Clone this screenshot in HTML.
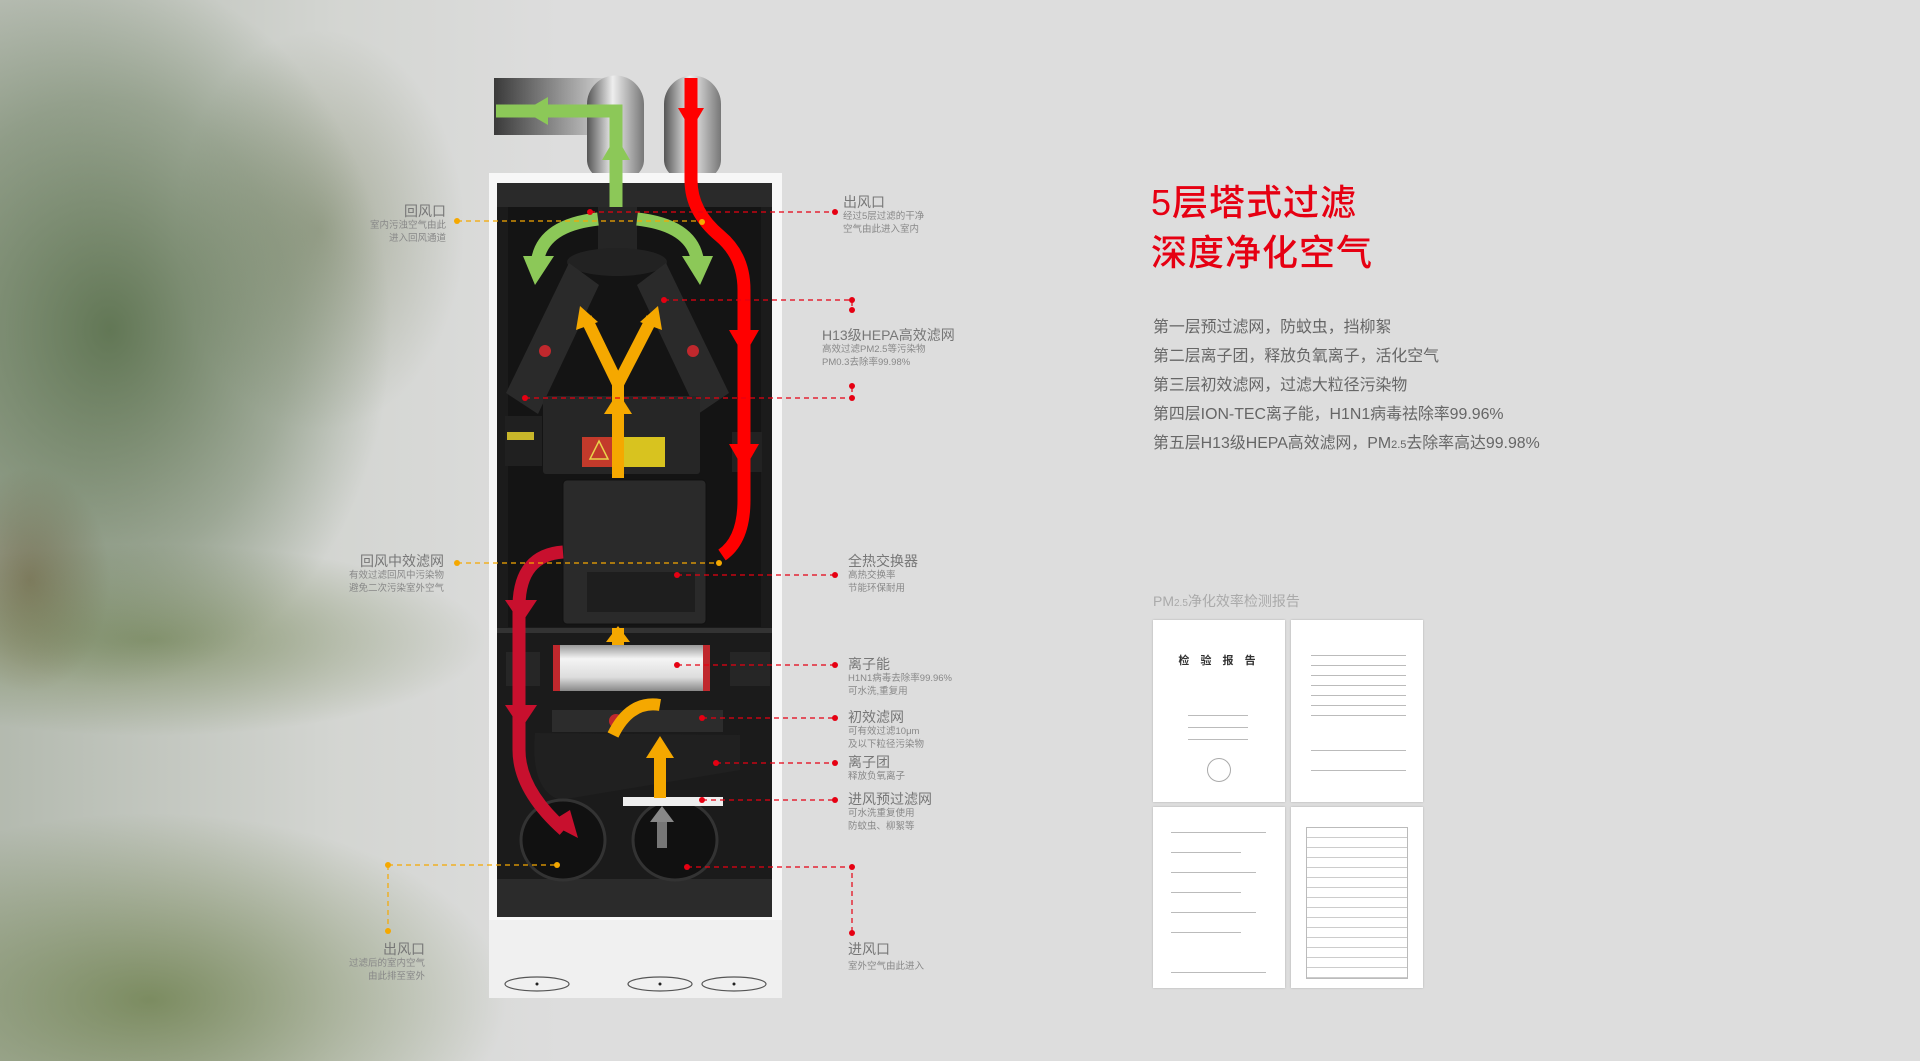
<!DOCTYPE html>
<html><head><meta charset="utf-8"><style>
*{margin:0;padding:0}
body{width:1920px;height:1061px;background:#dddddd;position:relative;overflow:hidden;font-family:"Liberation Sans","Noto Sans CJK SC",sans-serif}
.bg{position:absolute;left:0;top:0;width:560px;height:1061px;
background:
radial-gradient(ellipse 330px 420px at 110px 330px,rgba(75,100,60,.8),rgba(75,100,60,.35) 55%,rgba(75,100,60,0) 85%),
radial-gradient(ellipse 180px 250px at 320px 230px,rgba(110,120,85,.45),rgba(110,120,85,0) 80%),
radial-gradient(ellipse 420px 120px at 150px 640px,rgba(100,120,65,.6),rgba(100,120,65,0) 80%),
radial-gradient(ellipse 420px 220px at 150px 1000px,rgba(100,120,65,.75),rgba(100,120,65,0) 85%),
radial-gradient(ellipse 100px 140px at 30px 580px,rgba(120,85,55,.55),rgba(120,85,55,0) 80%),
linear-gradient(90deg,rgba(175,182,170,.9),rgba(205,208,202,.6) 60%,rgba(221,221,221,0));}
.lt{position:absolute;text-align:right;color:#777;font-size:14px;line-height:15px}
.lt small{display:block;font-size:9.5px;line-height:13px;color:#888}
.rt{position:absolute;text-align:left;color:#777;font-size:14px;line-height:15px}
.rt small{display:block;font-size:9.5px;line-height:13px;color:#888}
.title{position:absolute;left:1151px;top:178px;color:#e60012;font-size:36px;line-height:50px;font-weight:500;letter-spacing:1px}
.body{position:absolute;left:1153px;top:313px;color:#666;font-size:15.9px;line-height:29px}
.doc{position:absolute;background:#fff;box-shadow:0 0 2px rgba(0,0,0,.2)}
.doc i{position:absolute;height:1px;background:#bbb}
</style></head><body>
<div class="bg"></div>

<svg width="1920" height="1061" style="position:absolute;left:0;top:0">
<defs>
<linearGradient id="dh" x1="0" x2="1" y1="0" y2="0"><stop offset="0" stop-color="#3a3a3a"/><stop offset=".7" stop-color="#aaa"/><stop offset="1" stop-color="#ddd"/></linearGradient>
<linearGradient id="cy" x1="0" x2="1"><stop offset="0" stop-color="#555"/><stop offset=".45" stop-color="#eee"/><stop offset="1" stop-color="#777"/></linearGradient>
<linearGradient id="tube" x1="0" x2="0" y1="0" y2="1"><stop offset="0" stop-color="#999"/><stop offset=".3" stop-color="#f4f4f4"/><stop offset=".7" stop-color="#ddd"/><stop offset="1" stop-color="#888"/></linearGradient>
</defs>
<rect x="494" y="78" width="120" height="57" fill="url(#dh)"/>
<path d="M587 104 a28 28 0 0 1 57 0 V160 a28 22 0 0 1 -57 0Z" fill="url(#cy)"/>
<path d="M664 104 a28 28 0 0 1 57 0 V160 a28 22 0 0 1 -57 0Z" fill="url(#cy)"/>
<rect x="489" y="173" width="293" height="825" fill="#f7f7f7"/>
<rect x="497" y="183" width="275" height="734" fill="#1b1b1b"/>
<rect x="497" y="183" width="275" height="24" fill="#2a2a2a"/>
<rect x="508" y="207" width="253" height="420" fill="#141414"/>
<rect x="497" y="879" width="275" height="38" fill="#2b2b2b"/>
<rect x="497" y="628" width="275" height="5" fill="#333"/>
<rect x="489" y="920" width="293" height="78" fill="#f0f0f0"/>
<ellipse cx="537" cy="984" rx="32" ry="7" fill="none" stroke="#555" stroke-width="1.2"/><circle cx="537" cy="984" r="1.5" fill="#222"/>
<ellipse cx="660" cy="984" rx="32" ry="7" fill="none" stroke="#555" stroke-width="1.2"/><circle cx="660" cy="984" r="1.5" fill="#222"/>
<ellipse cx="734" cy="984" rx="32" ry="7" fill="none" stroke="#555" stroke-width="1.2"/><circle cx="734" cy="984" r="1.5" fill="#222"/>
<rect x="598" y="207" width="39" height="50" fill="#252525"/>
<ellipse cx="617" cy="262" rx="50" ry="14" fill="#222"/>
<polygon points="569,263 599,285 538,414 506,393" fill="#2a2a2a"/>
<polygon points="637,285 666,263 729,393 698,414" fill="#2a2a2a"/>
<circle cx="545" cy="351" r="6" fill="#c0282d"/><circle cx="693" cy="351" r="6" fill="#c0282d"/>
<rect x="543" y="396" width="157" height="78" rx="3" fill="#262626"/>
<rect x="582" y="437" width="83" height="30" fill="#d8c31f"/><rect x="582" y="437" width="34" height="30" fill="#c33a2b"/>
<polygon points="599,441 608,459 590,459" fill="none" stroke="#e9d24a" stroke-width="1.5"/>
<rect x="505" y="416" width="37" height="50" fill="#202020"/><rect x="507" y="432" width="27" height="8" fill="#c8b62a"/>
<rect x="732" y="432" width="30" height="40" fill="#222"/>
<rect x="563" y="480" width="143" height="144" rx="4" fill="#2a2a2a" stroke="#111"/>
<rect x="587" y="572" width="108" height="40" fill="#1e1e1e"/>
<rect x="553" y="645" width="157" height="46" fill="url(#tube)"/>
<rect x="553" y="645" width="7" height="46" fill="#c0282d"/><rect x="703" y="645" width="7" height="46" fill="#c0282d"/>
<rect x="506" y="652" width="34" height="34" fill="#262626"/><rect x="730" y="652" width="40" height="34" fill="#262626"/>
<rect x="552" y="710" width="171" height="22" fill="#2c2c2c"/>
<circle cx="616" cy="721" r="7" fill="#c0282d"/>
<path d="M535 733 Q530 790 560 800 L740 770 V735Z" fill="#202020"/>
<ellipse cx="563" cy="840" rx="42" ry="40" fill="#111" stroke="#333" stroke-width="3"/>
<ellipse cx="675" cy="840" rx="42" ry="40" fill="#111" stroke="#333" stroke-width="3"/>
<rect x="623" y="797" width="100" height="9" fill="#eee"/>
<path d="M662 848 V815" stroke="#777" stroke-width="10"/><polygon points="650,822 662,806 674,822" fill="#888"/>
<g fill="none" stroke="#f5a800" stroke-width="12">
<path d="M618 478 V384 L586 318 M618 384 L652 318"/>
<path d="M618 645 V628"/>
<path d="M660 798 V748"/>
<path d="M613 735 Q630 700 660 705"/>
</g>
<g fill="#f5a800">
<polygon points="604,414 618,392 632,414"/><polygon points="576,330 580,306 598,322"/><polygon points="640,322 658,306 662,330"/>
<polygon points="606,642 618,626 630,642"/><polygon points="646,758 660,736 674,758"/>
</g>
<g fill="none" stroke="#8cc858" stroke-width="13">
<path d="M616 207 V111 H496"/>
<path d="M598 219 Q545 225 538 258"/><path d="M637 219 Q690 225 697 258"/>
</g>
<g fill="#8cc858">
<polygon points="602,160 616,136 630,160"/><polygon points="548,97 524,111 548,125"/>
<polygon points="523,256 554,256 535,285"/><polygon points="682,256 713,256 700,285"/>
</g>
<path d="M691 78 V180 Q691 212 720 236 Q744 256 744 290 V500 Q744 540 722 555" fill="none" stroke="#ff0000" stroke-width="13"/>
<g fill="#ff0000"><polygon points="678,108 691,130 704,108"/><polygon points="729,330 744,356 759,330"/><polygon points="729,444 744,470 759,444"/></g>
<path d="M563 552 Q520 555 519 605 V750 Q519 790 564 830" fill="none" stroke="#c8102e" stroke-width="13"/>
<g fill="#c8102e"><polygon points="505,600 521,624 537,600"/><polygon points="505,705 521,729 537,705"/><polygon points="549,823 578,838 570,810"/></g>
<g stroke="#f5a800" stroke-width="1.2" stroke-dasharray="5,4" fill="none">
<path d="M457 221 H702"/><path d="M457 563 H719"/><path d="M388 865 H557 M388 865 V931"/>
</g>
<g fill="#f5a800"><circle cx="457" cy="221" r="3"/><circle cx="702" cy="222" r="3"/><circle cx="457" cy="563" r="3"/><circle cx="719" cy="563" r="3"/><circle cx="388" cy="865" r="3"/><circle cx="557" cy="865" r="3"/><circle cx="388" cy="931" r="3"/></g>
<g stroke="#e60012" stroke-width="1.2" stroke-dasharray="5,4" fill="none">
<path d="M590 212 H835"/><path d="M664 300 H852 V310"/><path d="M525 398 H852 V385"/><path d="M677 575 H835"/><path d="M677 665 H835"/><path d="M702 718 H835"/><path d="M716 763 H835"/><path d="M702 800 H835"/><path d="M687 867 H852 V933"/>
</g>
<g fill="#e60012">
<circle cx="590" cy="212" r="3"/><circle cx="835" cy="212" r="3"/><circle cx="664" cy="300" r="3"/><circle cx="852" cy="300" r="3"/><circle cx="852" cy="310" r="3"/><circle cx="525" cy="398" r="3"/><circle cx="852" cy="398" r="3"/><circle cx="852" cy="386" r="3"/>
<circle cx="677" cy="575" r="3"/><circle cx="835" cy="575" r="3"/><circle cx="677" cy="665" r="3"/><circle cx="835" cy="665" r="3"/><circle cx="702" cy="718" r="3"/><circle cx="835" cy="718" r="3"/><circle cx="716" cy="763" r="3"/><circle cx="835" cy="763" r="3"/><circle cx="702" cy="800" r="3"/><circle cx="835" cy="800" r="3"/><circle cx="687" cy="867" r="3"/><circle cx="852" cy="867" r="3"/><circle cx="852" cy="933" r="3"/></g>
</svg>

<div class="lt" style="right:1474px;top:204px">回风口<small>室内污浊空气由此<br>进入回风通道</small></div>
<div class="lt" style="right:1476px;top:554px">回风中效滤网<small>有效过滤回风中污染物<br>避免二次污染室外空气</small></div>
<div class="lt" style="right:1495px;top:942px">出风口<small>过滤后的室内空气<br>由此排至室外</small></div>
<div class="rt" style="left:843px;top:195px">出风口<small>经过5层过滤的干净<br>空气由此进入室内</small></div>
<div class="rt" style="left:822px;top:328px">H13级HEPA高效滤网<small>高效过滤PM2.5等污染物<br>PM0.3去除率99.98%</small></div>
<div class="rt" style="left:848px;top:554px">全热交换器<small>高热交换率<br>节能环保耐用</small></div>
<div class="rt" style="left:848px;top:657px">离子能<small>H1N1病毒去除率99.96%<br>可水洗,重复用</small></div>
<div class="rt" style="left:848px;top:710px">初效滤网<small>可有效过滤10μm<br>及以下粒径污染物</small></div>
<div class="rt" style="left:848px;top:755px">离子团<small>释放负氧离子</small></div>
<div class="rt" style="left:848px;top:792px">进风预过滤网<small>可水洗重复使用<br>防蚊虫、柳絮等</small></div>
<div class="rt" style="left:848px;top:942px">进风口<small style="margin-top:3px">室外空气由此进入</small></div>

<div class="title">5层塔式过滤<br>深度净化空气</div>
<div class="body">第一层预过滤网，防蚊虫，挡柳絮<br>第二层离子团，释放负氧离子，活化空气<br>第三层初效滤网，过滤大粒径污染物<br>第四层ION-TEC离子能，H1N1病毒祛除率99.96%<br>第五层H13级HEPA高效滤网，PM<span style="font-size:11px">2.5</span>去除率高达99.98%</div>
<div style="position:absolute;left:1153px;top:591px;color:#aaa;font-size:14px">PM<span style="font-size:10px">2.5</span>净化效率检测报告</div>

<div class="doc" style="left:1153px;top:620px;width:132px;height:182px">
<div style="position:absolute;left:0;right:0;top:32px;text-align:center;font-size:11px;font-weight:bold;color:#333;letter-spacing:4px">检 验 报 告</div>
<i style="left:35px;top:95px;width:60px"></i><i style="left:35px;top:107px;width:60px"></i><i style="left:35px;top:119px;width:60px"></i>
<div style="position:absolute;left:54px;top:138px;width:22px;height:22px;border:1px solid #aaa;border-radius:50%"></div></div>
<div class="doc" style="left:1291px;top:620px;width:132px;height:182px">
<i style="left:20px;top:35px;width:95px"></i><i style="left:20px;top:45px;width:95px"></i><i style="left:20px;top:55px;width:95px"></i><i style="left:20px;top:65px;width:95px"></i><i style="left:20px;top:75px;width:95px"></i><i style="left:20px;top:85px;width:95px"></i><i style="left:20px;top:95px;width:95px"></i><i style="left:20px;top:130px;width:95px"></i><i style="left:20px;top:150px;width:95px"></i></div>
<div class="doc" style="left:1153px;top:807px;width:132px;height:181px">
<i style="left:18px;top:25px;width:95px"></i><i style="left:18px;top:45px;width:70px"></i><i style="left:18px;top:65px;width:85px"></i><i style="left:18px;top:85px;width:70px"></i><i style="left:18px;top:105px;width:85px"></i><i style="left:18px;top:125px;width:70px"></i><i style="left:18px;top:165px;width:95px"></i></div>
<div class="doc" style="left:1291px;top:807px;width:132px;height:181px">
<div style="position:absolute;left:15px;top:20px;width:100px;height:150px;background:repeating-linear-gradient(#fff 0 9px,#ccc 9px 10px),#fff;border:1px solid #bbb"></div></div>
</body></html>
